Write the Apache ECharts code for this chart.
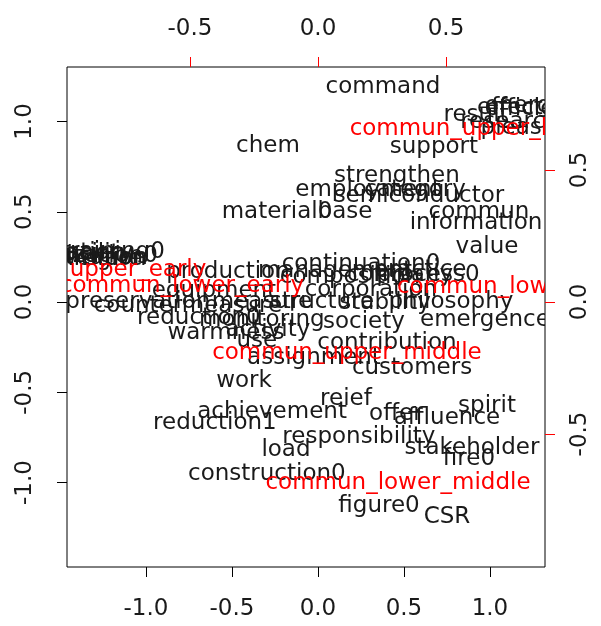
<!DOCTYPE html>
<html><head><meta charset="utf-8">
<script src="https://cdn.jsdelivr.net/npm/echarts@6/dist/echarts.min.js"></script>
<style>html,body{margin:0;padding:0;background:#fff}#c{width:601px;height:626px}</style>
</head><body><div id="c"></div>
<script>
// Row (word) coordinates — bottom / left axes
const rowLabels = ["nation","institution","utilization0","facility","welfare","region","training0",
 "command","chem","support","strengthen","employment","category","semiconductor","material0","base",
 "commun","information","value","continuation0","process0","production","management","composition",
 "company","practice","corporation","equipment","preservation","countermeasure","measure","structure",
 "stability","philosophy","reduction0","monitoring","society","emergence","warmness","activity","use",
 "contribution","assignment","customers","work","reief","achievement","reduction1","offer","affluence",
 "spirit","responsibility","load","stakeholder","fire0","construction0","figure0","CSR",
 "result","research","effect","energy","efficiency","pleasure"];
const rowX = [-1.337,-1.326,-1.302,-1.297,-1.267,-1.209,-1.192,
 0.378,-0.291,0.674,0.459,0.291,0.564,0.587,-0.238,0.157,
 0.936,0.919,0.983,0.250,0.640,-0.523,0.099,0.186,
 0.477,0.593,0.308,-0.605,-1.047,-0.756,-0.326,0.023,
 0.390,0.773,-0.692,-0.326,0.267,0.971,-0.535,-0.291,-0.355,
 0.401,-0.023,0.547,-0.430,0.163,-0.267,-0.599,0.453,0.750,
 0.983,0.238,-0.186,0.895,0.878,-0.297,0.355,0.750,
 0.919,1.116,1.116,1.203,1.291,1.233];
const rowY = [0.271,0.244,0.255,0.266,0.238,0.238,0.277,
 1.191,0.864,0.859,0.698,0.620,0.620,0.587,0.499,0.499,
 0.499,0.438,0.305,0.211,0.150,0.166,0.172,0.139,
 0.150,0.177,0.066,0.061,0.000,-0.022,0.000,0.000,
 -0.006,0.000,-0.089,-0.100,-0.111,-0.100,-0.172,-0.155,-0.216,
 -0.227,-0.310,-0.366,-0.438,-0.537,-0.609,-0.670,-0.620,-0.643,
 -0.576,-0.748,-0.820,-0.809,-0.870,-0.953,-1.130,-1.191,
 1.036,0.997,1.075,1.086,1.069,0.964];

// Column (group) coordinates — top / right axes
const colLabels = ["commun_upper_early","commun_lower_early","commun_upper_middle",
 "commun_lower_middle","commun_upper_late","commun_lower_late"];
const colX = [-0.922,-0.531,0.113,0.3125,0.582,0.758];
const colY = [0.121,0.061,-0.193,-0.686,0.655,0.057];

const bottomTicks = [-1.0,-0.5,0.0,0.5,1.0];
const leftTicks = [-1.0,-0.5,0.0,0.5,1.0];
const topTicks = [-0.5,0.0,0.5];
const rightTicks = [-0.5,0.0,0.5];

const FONT = '"DejaVu Sans", sans-serif';
const fmt = v => Number(v).toFixed(1);

function makeRender(labels, color){
  return function(params, api){
    const p = api.coord([api.value(0), api.value(1)]);
    return {type:'text', x:p[0], y:p[1],
      style:{text: labels[params.dataIndex], fill: color, fontSize: 23, fontFamily: FONT,
             align:'center', verticalAlign:'middle'}};
  };
}

function axisBase(ticks, color, rotate, margin){
  return {
    type:'value', scale:true,
    axisLine:{show:false, onZero:false},
    splitLine:{show:false},
    axisTick:{show:true, inside:false, length:10, customValues:ticks, lineStyle:{color:color, width:1}},
    axisLabel:{show:true, customValues:ticks, formatter:fmt, color:'#1a1a1a', fontSize:23,
               fontFamily:FONT, rotate:rotate, margin:margin, hideOverlap:false}
  };
}

const chart = echarts.init(document.getElementById('c'), null, {renderer:'canvas'});
chart.setOption({
  animation:false,
  backgroundColor:'#fff',
  grid:{left:67, right:56, top:67, bottom:59, show:true, borderColor:'#000', borderWidth:1, backgroundColor:'transparent'},
  xAxis:[
    Object.assign(axisBase(bottomTicks,'#000',0,31), {position:'bottom', min:-1.459, max:1.320}),
    Object.assign(axisBase(topTicks,'#ff0000',0,26), {position:'top', min:-0.9805, max:0.8867})
  ],
  yAxis:[
    Object.assign(axisBase(leftTicks,'#000',90,30), {position:'left', min:-1.468, max:1.302}),
    Object.assign(axisBase(rightTicks,'#ff0000',90,24), {position:'right', min:-1.004, max:0.890})
  ],
  series:[
    {type:'custom', xAxisIndex:0, yAxisIndex:0, clip:true, silent:true,
     data: rowX.map((x,i)=>[x,rowY[i]]), renderItem: makeRender(rowLabels,'#1a1a1a')},
    {type:'custom', xAxisIndex:1, yAxisIndex:1, clip:true, silent:true,
     data: colX.map((x,i)=>[x,colY[i]]), renderItem: makeRender(colLabels,'#ff0000')}
  ]
});
</script></body></html>
